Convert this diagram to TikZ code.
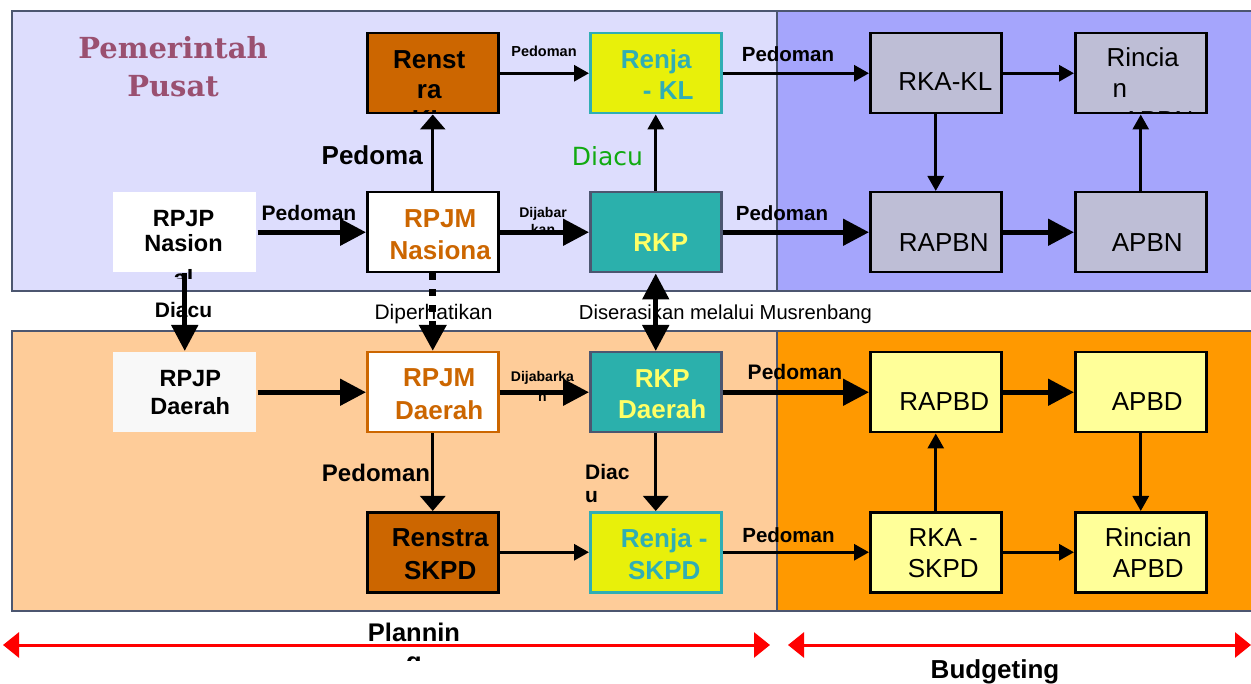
\documentclass[tikz,border=0pt]{standalone}
\usepackage{fontspec}
\setmainfont{Liberation Sans}
\newfontfamily\pemfont{DejaVu Serif}
\newfontfamily\djv{DejaVu Sans}
\usetikzlibrary{arrows.meta}
\definecolor{pantl}{HTML}{DDDDFD}
\definecolor{pantr}{HTML}{A5A5FC}
\definecolor{panbl}{HTML}{FECC99}
\definecolor{panbr}{HTML}{FF9900}
\definecolor{panedge}{HTML}{4C5670}
\definecolor{rstr}{HTML}{CC6600}
\definecolor{renjaf}{HTML}{E8F00A}
\definecolor{tealf}{HTML}{2BB0AC}
\definecolor{tealt}{HTML}{30AEB4}
\definecolor{grayf}{HTML}{BEBED6}
\definecolor{ylwf}{HTML}{FFFF99}
\definecolor{rkpt}{HTML}{FFFF66}
\definecolor{orgt}{HTML}{CC6600}
\definecolor{pemc}{HTML}{9A5070}
\definecolor{diacug}{HTML}{11AA11}
\definecolor{offw}{HTML}{F8F8F8}
\newcommand\ml[3]{{\fontsize{#1}{#2}\selectfont\begin{tabular}[t]{@{}c@{}}#3\end{tabular}}}
\newcommand\mlL[3]{{\fontsize{#1}{#2}\selectfont\begin{tabular}[t]{@{}l@{}}#3\end{tabular}}}
\newcommand\bt[5]{\node[anchor=base,inner sep=0pt,minimum width=0pt,minimum height=0pt,#2] (#1) at ([shift={(#3,#4)}]path picture bounding box.north west) {#5};}
\tikzset{
  box/.style={minimum width=131pt, minimum height=80pt, inner sep=0pt, anchor=north west, line width=2.5pt},
  wbox/.style={box, minimum width=143pt},
  lab/.style={anchor=base, inner sep=0pt, font=\bfseries},
  txt/.style={anchor=base, inner sep=0pt},
  panel/.style={draw=panedge, line width=2.5pt},
  tarr/.style={line width=3pt, -{Triangle[length=15pt,width=16pt]}},
  warr/.style={line width=3pt, -{Triangle[length=15pt,width=25pt]}},
  barr/.style={line width=5pt, -{Triangle[length=26pt,width=26pt]}},
  bbarr/.style={line width=5pt, {Triangle[length=26pt,width=26pt]}-{Triangle[length=26pt,width=26pt]}},
  redarr/.style={draw=red, line width=3pt, {Triangle[length=16pt,width=25pt]}-{Triangle[length=16pt,width=25pt]}},
}
\begin{document}
\begin{tikzpicture}[x=1pt,y=-1pt]
\useasboundingbox (0,0) rectangle (1251,684);
\fill[white] (0,0) rectangle (1251,684);
% panels
\draw[panel, fill=pantl] (12,11) rectangle (777,291);
\draw[panel, fill=pantr] (777,11) rectangle (1256,291);
\draw[panel, fill=panbl] (12,331) rectangle (777,611);
\draw[panel, fill=panbr] (777,331) rectangle (1256,611);

% top row boxes
\node[box, draw=black, fill=rstr, path picture={\bt{renstrakl-t}{font=\bfseries}{62}{35}{\ml{26}{30}{Renst\\ra\\KL}}}] (renstrakl) at (366,32) {};
\node[box, draw=tealt, fill=renjaf, path picture={\bt{renjakl-t}{font=\bfseries, text=tealt}{66}{35}{\ml{26}{31}{Renja\\\hspace*{24pt}- KL}}}] (renjakl) at (589,32) {};
\node[box, draw=black, fill=grayf, path picture={\bt{rkakl-t}{}{75}{57}{\ml{26}{31}{RKA-KL}}}] (rkakl) at (869,32) {};
\node[box, draw=black, fill=grayf, path picture={\bt{rincianapbn-t}{anchor=base west}{30}{33}{\mlL{26}{31.5}{Rincia\\\hspace*{6pt}n\\\hspace*{16pt}APBN}}}] (rincianapbn) at (1074,32) {};

% second row
\node[wbox, fill=white] (rpjpn) at (112,191) {};
\begin{scope}
\clip (112,191) rectangle (255,279);
\node[txt, font=\bfseries] (rpjpn-t) at (183.5,227) {\ml{23.5}{25}{RPJP\\Nasion\\[10pt]al}};
\end{scope}
\node[box, draw=black, fill=white, path picture={\bt{rpjmn-t}{font=\bfseries, text=orgt}{73}{35}{\ml{26}{32}{RPJM\\Nasiona}}}] (rpjmn) at (366,191) {};
\node[box, draw=panedge, fill=tealf, path picture={\bt{rkp-t}{font=\bfseries, text=rkpt}{70.5}{59}{\ml{26}{31}{RKP}}}] (rkp) at (589,191) {};
\node[box, draw=black, fill=grayf, path picture={\bt{rapbn-t}{}{73.5}{59}{\ml{26}{31}{RAPBN}}}] (rapbn) at (869,191) {};
\node[box, draw=black, fill=grayf, path picture={\bt{apbn-t}{}{72}{59}{\ml{26}{31}{APBN}}}] (apbn) at (1074,191) {};

% third row
\node[wbox, fill=offw, path picture={\bt{rpjpd-t}{font=\bfseries}{77}{34}{\ml{23.5}{28}{RPJP\\Daerah}}}] (rpjpd) at (112,351) {};
\node[box, draw=orgt, fill=white, path picture={\bt{rpjmd-t}{font=\bfseries, text=orgt}{72}{34}{\ml{26}{33}{RPJM\\Daerah}}}] (rpjmd) at (366,351) {};
\node[box, draw=panedge, fill=tealf, path picture={\bt{rkpd-t}{font=\bfseries, text=rkpt}{72}{35}{\ml{26}{31}{RKP\\Daerah}}}] (rkpd) at (589,351) {};
\node[box, draw=black, fill=ylwf, path picture={\bt{rapbd-t}{}{74}{58}{\ml{26}{31}{RAPBD}}}] (rapbd) at (869,351) {};
\node[box, draw=black, fill=ylwf, path picture={\bt{apbd-t}{}{72}{58}{\ml{26}{31}{APBD}}}] (apbd) at (1074,351) {};

% fourth row
\node[box, draw=black, fill=rstr, path picture={\bt{renstraskpd-t}{font=\bfseries}{73}{34}{\ml{26}{33}{Renstra\\SKPD}}}] (renstraskpd) at (366,511) {};
\node[box, draw=tealt, fill=renjaf, path picture={\bt{renjaskpd-t}{font=\bfseries, text=tealt}{74}{35}{\ml{26}{32}{Renja -\\SKPD}}}] (renjaskpd) at (589,511) {};
\node[box, draw=black, fill=ylwf, path picture={\bt{rkaskpd-t}{}{73}{34}{\ml{26}{31}{RKA -\\SKPD}}}] (rkaskpd) at (869,511) {};
\node[box, draw=black, fill=ylwf, path picture={\bt{rincianapbd-t}{}{73}{34}{\ml{26}{31}{Rincian\\APBD}}}] (rincianapbd) at (1074,511) {};

% labels
\node[lab, font={\pemfont\bfseries}, text=pemc] (l-pem) at (173,59) {\ml{29}{38}{Pemerintah\\Pusat}};
\node[lab] (l-ped1) at (544,57) {\fontsize{14.5}{17}\selectfont Pedoman};
\node[lab] (l-ped2) at (788,62) {\fontsize{20.5}{24}\selectfont Pedoman};
\node[lab] (l-ped3) at (309,221) {\fontsize{21}{24}\selectfont Pedoman};
\node[lab, anchor=base east] (l-ped4) at (423,165) {\fontsize{26}{30}\selectfont Pedoma};
\node[lab] (l-dij1) at (543,218) {\ml{14}{17}{Dijabar\\kan}};
\node[txt, font=\djv, text=diacug] (l-diacu1) at (607.5,166) {\fontsize{25}{30}\selectfont Diacu};
\node[lab] (l-ped5) at (782,221) {\fontsize{20.5}{24}\selectfont Pedoman};
\node[lab] (l-diacu2) at (183.5,318) {\fontsize{21}{24}\selectfont Diacu};
\node[txt] (l-diper) at (433.5,320) {\fontsize{21}{24}\selectfont Diperhatikan};
\node[txt] (l-diser) at (725.5,320) {\fontsize{20.2}{24}\selectfont Diserasikan melalui Musrenbang};
\node[lab] (l-dij2) at (542.5,382) {\ml{14}{20}{Dijabarka\\n}};
\node[lab] (l-ped6) at (795,380) {\fontsize{21}{24}\selectfont Pedoman};
\node[lab] (l-ped7) at (376,482) {\fontsize{24}{28}\selectfont Pedoman};
\node[lab, anchor=base west] (l-diac3) at (585,480) {\mlL{21}{23}{Diac\\u}};
\node[lab] (l-ped8) at (788.5,542) {\fontsize{20.5}{24}\selectfont Pedoman};
\begin{scope}
\clip (300,600) rectangle (560,660);
\node[lab] (l-plan) at (414,641) {\ml{25.5}{29}{Plannin\\g}};
\end{scope}
\node[lab] (l-budg) at (995,678) {\fontsize{26}{30}\selectfont Budgeting};

% connectors
\draw[tarr] (renstrakl.east) -- (renjakl.west);
\draw[tarr] (renjakl.east) -- (rkakl.west);
\draw[tarr] (rkakl.east) -- (rincianapbn.west);
\draw[tarr] (rkakl.south) -- (rapbn.north);
\draw[tarr] (apbn.north) -- (rincianapbn.south);
\draw[barr] (rpjpn.east) -- (rpjmn.west);
\draw[warr] (rpjmn.north) -- (renstrakl.south);
\draw[barr] (rpjmn.east) -- (rkp.west);
\draw[tarr] (rkp.north) -- (renjakl.south);
\draw[barr] (rkp.east) -- (rapbn.west);
\draw[barr] (rapbn.east) -- (apbn.west);
\draw[barr] (rpjpn.south) -- (rpjpd.north);
\draw[barr, line width=7pt, dash pattern=on 7pt off 9pt] (rpjmn.south) -- (rpjmd.north);
\draw[bbarr] (rkp.south) -- (rkpd.north);
\draw[barr] (rpjpd.east) -- (rpjmd.west);
\draw[barr] (rpjmd.east) -- (rkpd.west);
\draw[barr] (rkpd.east) -- (rapbd.west);
\draw[barr] (rapbd.east) -- (apbd.west);
\draw[warr] (rpjmd.south) -- (renstraskpd.north);
\draw[warr] (rkpd.south) -- (renjaskpd.north);
\draw[tarr] (renstraskpd.east) -- (renjaskpd.west);
\draw[tarr] (renjaskpd.east) -- (rkaskpd.west);
\draw[tarr] (rkaskpd.north) -- (rapbd.south);
\draw[tarr] (apbd.south) -- (rincianapbd.north);
\draw[tarr] (rkaskpd.east) -- (rincianapbd.west);

% planning / budgeting spans
\coordinate (pa) at (3,645);
\coordinate (pb) at (770,645);
\coordinate (ba) at (788,645);
\coordinate (bb) at (1251,645);
\draw[redarr] (pa) -- (pb);
\draw[redarr] (ba) -- (bb);
\end{tikzpicture}
\end{document}
